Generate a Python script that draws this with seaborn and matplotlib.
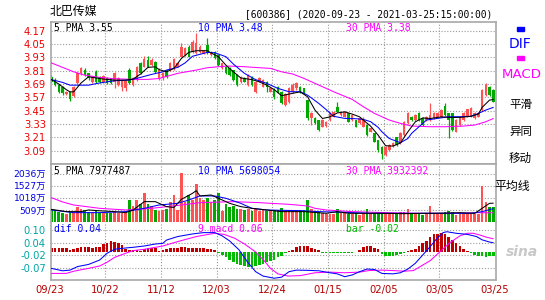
import matplotlib
matplotlib.use("Agg")
import matplotlib.pyplot as plt
import matplotlib.transforms as mtransforms
from matplotlib.patches import Rectangle
import numpy as np
import pandas as pd
import seaborn as sns

# ---------------- data ----------------
date_labels = ["09/23", "10/22", "11/12", "12/03", "12/24", "01/15", "02/05", "03/05", "03/25"]
date_label_pos = [-0.5, 14.5, 29.5, 44.5, 59.5, 74.5, 89.5, 104.5, 119.5]

opens = [3.756, 3.726, 3.681, 3.666, 3.60, 3.62, 3.58, 3.70, 3.79, 3.82,
         3.786, 3.71, 3.80, 3.756, 3.71, 3.74, 3.74, 3.71, 3.68, 3.666,
         3.65, 3.816, 3.68, 3.73, 3.876, 3.846, 3.906, 3.861, 3.891, 3.741,
         3.741, 3.816, 3.816, 3.831, 3.846, 3.936, 3.951, 4.026, 3.981, 3.966,
         3.981, 3.966, 4.041, 3.951, 3.981, 3.951, 3.831, 3.846, 3.831, 3.816,
         3.771, 3.711, 3.741, 3.681, 3.756, 3.621, 3.711, 3.666, 3.711, 3.621,
         3.64, 3.666, 3.62, 3.50, 3.53, 3.62, 3.65, 3.666, 3.65, 3.546,
         3.381, 3.381, 3.366, 3.306, 3.312, 3.366, 3.396, 3.486, 3.411, 3.396,
         3.426, 3.366, 3.366, 3.336, 3.306, 3.321, 3.261, 3.246, 3.186, 3.12,
         3.051, 3.096, 3.132, 3.21, 3.156, 3.231, 3.336, 3.396, 3.366, 3.426,
         3.381, 3.366, 3.366, 3.381, 3.396, 3.396, 3.492, 3.426, 3.426, 3.261,
         3.321, 3.366, 3.396, 3.396, 3.381, 3.396, 3.456, 3.591, 3.666, 3.636]
closes = [3.711, 3.681, 3.621, 3.606, 3.62, 3.56, 3.66, 3.786, 3.83, 3.77,
          3.741, 3.75, 3.71, 3.711, 3.76, 3.70, 3.70, 3.786, 3.74, 3.726,
          3.72, 3.696, 3.74, 3.846, 3.786, 3.912, 3.846, 3.906, 3.801, 3.816,
          3.786, 3.756, 3.876, 3.912, 3.876, 4.026, 4.011, 3.936, 4.071, 4.056,
          4.026, 3.996, 3.966, 3.981, 3.921, 3.861, 3.876, 3.786, 3.771, 3.726,
          3.681, 3.756, 3.711, 3.771, 3.681, 3.711, 3.741, 3.726, 3.666, 3.651,
          3.57, 3.62, 3.516, 3.60, 3.65, 3.68, 3.70, 3.62, 3.606, 3.381,
          3.426, 3.336, 3.276, 3.366, 3.351, 3.426, 3.441, 3.441, 3.441, 3.441,
          3.351, 3.411, 3.306, 3.381, 3.366, 3.231, 3.291, 3.171, 3.10, 3.06,
          3.126, 3.141, 3.162, 3.141, 3.246, 3.351, 3.426, 3.366, 3.411, 3.366,
          3.321, 3.396, 3.411, 3.426, 3.426, 3.456, 3.411, 3.366, 3.276, 3.366,
          3.396, 3.426, 3.462, 3.471, 3.426, 3.426, 3.636, 3.681, 3.591, 3.531]
highs = [3.77, 3.74, 3.69, 3.675, 3.63, 3.63, 3.67, 3.80, 3.846, 3.83,
         3.79, 3.76, 3.82, 3.76, 3.77, 3.75, 3.745, 3.80, 3.75, 3.73,
         3.73, 3.83, 3.75, 3.85, 3.89, 3.94, 3.942, 3.92, 3.90, 3.83,
         3.80, 3.82, 3.89, 3.92, 3.89, 4.056, 4.02, 4.04, 4.086, 4.146,
         4.04, 4.00, 4.101, 3.99, 3.99, 3.96, 3.88, 3.85, 3.84, 3.82,
         3.78, 3.765, 3.75, 3.78, 3.765, 3.72, 3.75, 3.735, 3.72, 3.66,
         3.65, 3.67, 3.63, 3.61, 3.66, 3.70, 3.71, 3.67, 3.655, 3.55,
         3.44, 3.39, 3.37, 3.375, 3.36, 3.435, 3.45, 3.531, 3.45, 3.45,
         3.43, 3.42, 3.37, 3.39, 3.396, 3.33, 3.30, 3.25, 3.19, 3.13,
         3.135, 3.15, 3.17, 3.215, 3.255, 3.36, 3.441, 3.40, 3.42, 3.441,
         3.39, 3.405, 3.516, 3.435, 3.435, 3.465, 3.52, 3.43, 3.43, 3.375,
         3.405, 3.435, 3.47, 3.48, 3.435, 3.435, 3.645, 3.696, 3.675, 3.645]
lows = [3.70, 3.675, 3.61, 3.59, 3.59, 3.54, 3.575, 3.69, 3.775, 3.76,
        3.73, 3.70, 3.70, 3.70, 3.70, 3.69, 3.69, 3.65, 3.67, 3.63,
        3.63, 3.69, 3.67, 3.72, 3.78, 3.84, 3.84, 3.85, 3.79, 3.73,
        3.73, 3.745, 3.81, 3.82, 3.84, 3.93, 3.94, 3.93, 3.97, 3.96,
        3.97, 3.96, 3.96, 3.945, 3.915, 3.855, 3.825, 3.78, 3.765, 3.72,
        3.675, 3.70, 3.705, 3.675, 3.675, 3.606, 3.705, 3.66, 3.62, 3.615,
        3.56, 3.61, 3.51, 3.49, 3.52, 3.61, 3.64, 3.61, 3.60, 3.37,
        3.32, 3.33, 3.27, 3.30, 3.305, 3.36, 3.39, 3.435, 3.405, 3.39,
        3.345, 3.36, 3.30, 3.33, 3.30, 3.225, 3.255, 3.165, 3.08, 3.02,
        3.045, 3.09, 3.125, 3.135, 3.15, 3.225, 3.33, 3.36, 3.36, 3.36,
        3.315, 3.36, 3.36, 3.375, 3.39, 3.39, 3.405, 3.201, 3.27, 3.255,
        3.315, 3.36, 3.39, 3.39, 3.375, 3.39, 3.45, 3.585, 3.585, 3.525]

# volume in 万 shares
volumes = [540, 470, 430, 380, 330, 450, 400, 650, 560, 500,
           450, 430, 480, 390, 420, 380, 370, 430, 380, 370,
           390, 930, 700, 930, 780, 1210, 780, 700, 520, 480,
           510, 570, 860, 1140, 520, 2070, 860, 1140, 930, 1600,
           1000, 930, 1000, 860, 930, 1210, 480, 780, 640, 700,
           570, 540, 500, 560, 480, 540, 470, 520, 470, 510,
           530, 500, 610, 520, 520, 500, 500, 520, 510, 930,
           540, 450, 420, 375, 350, 350, 340, 540, 400, 375,
           350, 340, 375, 320, 375, 540, 375, 400, 440, 400,
           375, 400, 340, 375, 420, 440, 540, 375, 350, 340,
           320, 400, 690, 375, 375, 400, 440, 470, 440, 320,
           350, 375, 375, 350, 340, 330, 1514, 860, 650, 625]

macd_bar = [0.018, 0.018, 0.017, 0.017, 0.016, 0.010, 0.012, 0.020, 0.021, 0.021,
            0.021, 0.020, 0.022, 0.024, 0.035, 0.042, 0.050, 0.047, 0.040, 0.030,
            0.014, 0.010, 0.010, 0.008, 0.006, 0.015, 0.017, 0.018, 0.016, 0.006,
            0.008, 0.014, 0.016, 0.018, 0.020, 0.021, 0.021, 0.020, 0.018, 0.017,
            0.016, 0.016, 0.015, 0.014, 0.010, -0.005, -0.015, -0.025, -0.035, -0.045,
            -0.055, -0.060, -0.065, -0.067, -0.067, -0.065, -0.060, -0.055, -0.045, -0.040,
            -0.035, -0.022, -0.018, -0.005, 0.005, 0.010, 0.022, 0.027, 0.027, 0.025,
            0.018, 0.012, 0.010, -0.004, -0.003, -0.003, -0.003, -0.003, -0.003, -0.003,
            -0.003, -0.003, -0.002, 0.010, 0.022, 0.027, 0.027, 0.020, 0.012, -0.010,
            -0.020, -0.020, -0.018, -0.015, -0.010, -0.003, 0.005, 0.010, 0.015, 0.025,
            0.040, 0.050, 0.070, 0.080, 0.083, 0.085, 0.082, 0.070, 0.055, 0.040,
            0.025, 0.012, 0.004, -0.005, -0.012, -0.018, -0.020, -0.022, -0.020, -0.020]

# moving-average lines, sampled points (bar index, value)
ma5_x = [0, 2, 4, 5, 6, 7, 8, 10, 12, 14, 17, 20, 22, 24, 26, 28, 29, 31, 33, 35,
         37, 39, 42, 43, 45, 47, 49, 51, 54, 56, 58, 60, 62, 64, 67, 69, 71, 73, 75, 77,
         79, 81, 83, 84, 86, 88, 90, 92, 94, 96, 98, 100, 102, 105, 107, 110, 113, 115, 116, 118, 119]
ma5_y = [3.73, 3.69, 3.64, 3.62, 3.62, 3.66, 3.70, 3.755, 3.745, 3.735, 3.725, 3.725, 3.735, 3.78, 3.84, 3.845, 3.82, 3.80, 3.83, 3.92,
         3.975, 3.99, 3.99, 3.97, 3.935, 3.86, 3.80, 3.745, 3.73, 3.71, 3.68, 3.64, 3.585, 3.60, 3.62, 3.575, 3.455, 3.38, 3.395, 3.43,
         3.44, 3.42, 3.395, 3.366, 3.31, 3.23, 3.135, 3.132, 3.16, 3.26, 3.35, 3.385, 3.38, 3.395, 3.39, 3.39, 3.40, 3.42, 3.48, 3.546, 3.55]
ma10_x = [0, 3, 5, 8, 10, 13, 17, 21, 24, 27, 30, 31, 34, 36, 38, 42, 44, 47, 49, 52,
          55, 58, 61, 64, 67, 69, 72, 74, 76, 79, 82, 84, 86, 88, 89, 91, 94, 96, 97, 99,
          101, 104, 107, 110, 113, 115, 117, 119]
ma10_y = [3.73, 3.705, 3.68, 3.68, 3.68, 3.70, 3.72, 3.726, 3.75, 3.777, 3.80, 3.816, 3.84, 3.88, 3.94, 3.975, 3.972, 3.936, 3.87, 3.786,
          3.73, 3.696, 3.651, 3.621, 3.621, 3.59, 3.516, 3.46, 3.40, 3.381, 3.378, 3.372, 3.351, 3.30, 3.261, 3.20, 3.162, 3.20, 3.246, 3.306,
          3.366, 3.381, 3.396, 3.396, 3.40, 3.426, 3.456, 3.48]
ma30_x = [0, 3, 6, 9, 13, 17, 22, 26, 29, 34, 39, 42, 45, 48, 52, 56, 59, 62, 65, 68,
          72, 76, 81, 84, 87, 89, 91, 94, 97, 102, 106, 111, 114, 117, 119]
ma30_y = [3.88, 3.84, 3.80, 3.77, 3.75, 3.738, 3.732, 3.732, 3.74, 3.786, 3.816, 3.837, 3.846, 3.852, 3.846, 3.837, 3.831, 3.80, 3.78, 3.741,
          3.681, 3.621, 3.552, 3.486, 3.426, 3.396, 3.366, 3.336, 3.312, 3.306, 3.306, 3.312, 3.321, 3.351, 3.38]

vma5_x = [0, 4, 8, 10, 13, 17, 20, 22, 25, 28, 31, 33, 35, 38, 39, 40, 43, 45, 48, 51,
          54, 58, 62, 68, 72, 74, 77, 80, 85, 90, 95, 100, 105, 110, 114, 116, 118, 119]
vma5_y = [540, 445, 445, 514, 480, 445, 403, 514, 862, 862, 654, 620, 958, 1210, 1321, 1099, 1140, 1001, 792, 654,
          583, 514, 445, 445, 400, 375, 445, 375, 375, 375, 360, 375, 380, 400, 375, 583, 792, 798]
vma10_x = [0, 6, 13, 20, 25, 29, 34, 37, 40, 44, 47, 51, 54, 58, 62, 67, 72, 78, 86, 100, 113, 116, 119]
vma10_y = [514, 403, 403, 445, 583, 722, 792, 931, 1099, 1099, 1001, 792, 583, 514, 500, 486, 445, 420, 375, 375, 375, 445, 570]
vma30_x = [0, 3, 6, 13, 20, 27, 35, 40, 49, 56, 59, 64, 69, 71, 74, 81, 90, 99, 108, 115, 119]
vma30_y = [1027, 850, 722, 583, 514, 583, 722, 820, 862, 820, 792, 750, 681, 583, 514, 445, 403, 375, 375, 403, 395]

dif_x = [0, 3, 5, 7, 10, 13, 15, 17, 20, 22, 25, 28, 30, 31, 34, 38, 41, 44, 46, 48,
         50.5, 53, 55, 57, 60, 62, 64, 66, 69, 72, 75, 77, 79, 81, 83, 85, 87, 89, 92, 94,
         96, 98, 100, 102, 104, 105.5, 106.5, 109, 112, 114.5, 116, 118, 119]
dif_y = [-0.075, -0.086, -0.083, -0.067, -0.057, -0.037, -0.006, 0.012, 0.018, 0.021, 0.027, 0.036, 0.039, 0.054, 0.070, 0.082, 0.088, 0.088, 0.073, 0.050,
         0.010, -0.050, -0.090, -0.110, -0.120, -0.115, -0.090, -0.083, -0.084, -0.086, -0.095, -0.100, -0.113, -0.105, -0.090, -0.078, -0.080, -0.098, -0.100, -0.095,
         -0.078, -0.052, -0.014, 0.024, 0.065, 0.088, 0.092, 0.085, 0.080, 0.070, 0.055, 0.045, 0.042]
dea_x = [0, 4, 6, 10, 13, 15, 17, 20, 22, 25, 28, 30, 34, 39, 44, 46.5, 49.4, 52, 55, 57.5,
         59, 61, 63.7, 67, 71, 75, 79, 83, 85.5, 89, 92, 95, 97.5, 99.3, 102, 104.6, 107.3, 110, 112, 113.6,
         115.4, 117.2, 119]
dea_y = [-0.098, -0.098, -0.088, -0.075, -0.064, -0.047, -0.025, -0.006, 0.006, 0.012, 0.021, 0.027, 0.047, 0.070, 0.085, 0.080, 0.062, 0.036, 0.000, -0.044,
         -0.075, -0.100, -0.110, -0.108, -0.095, -0.092, -0.095, -0.092, -0.085, -0.083, -0.085, -0.088, -0.085, -0.067, -0.040, 0.000, 0.042, 0.073, 0.085, 0.085,
         0.077, 0.067, 0.060]

price_ticks = [4.17, 4.05, 3.93, 3.81, 3.69, 3.57, 3.45, 3.33, 3.21, 3.09]
vol_ticks = [509, 1018, 1527, 2036]
macd_ticks = [0.10, 0.0425, -0.015, -0.0725]
macd_tick_labels = ["0.10", "0.04", "-0.02", "-0.07"]

# ---------------- styling ----------------
sns.set_theme(style="white")
plt.rcParams["font.family"] = ["DejaVu Sans", "Noto Sans CJK SC"]

W, H = 545.0, 300.0
fig = plt.figure(figsize=(5.45, 3.0), dpi=100)
fig.patch.set_facecolor("white")

def fx(px):
    return px / W

def fy(py):
    return 1.0 - py / H

LEFT, RIGHT = 50.7, 495.5
TOP_P, BOT_P, BOT_V, BOT_M = 21.7, 164.3, 222.3, 280.0
ax_p = fig.add_axes([fx(LEFT), fy(BOT_P), fx(RIGHT - LEFT), (BOT_P - TOP_P) / H])
ax_v = fig.add_axes([fx(LEFT), fy(BOT_V), fx(RIGHT - LEFT), (BOT_V - BOT_P) / H])
ax_m = fig.add_axes([fx(LEFT), fy(BOT_M), fx(RIGHT - LEFT), (BOT_M - BOT_V) / H])

RED = "#ff5252"
GREEN = "#00a800"
DRED = "#c00000"
MGREEN = "#00bb00"
GRID = "#9a9a9a"
BORDER = "#a8a8a8"
LW = 0.75
XLIM = (-0.19, 119.6)
vgrid = [14.5, 29.5, 44.5, 59.5, 74.5, 89.5, 104.5]

for ax in (ax_p, ax_v, ax_m):
    ax.set_facecolor("white")
    ax.set_xlim(*XLIM)
    ax.set_xticks([])
    for s in ax.spines.values():
        s.set_color(BORDER)
        s.set_linewidth(1.2)
    for xv in vgrid:
        ax.axvline(xv, color=GRID, lw=0.8, ls=(0, (1, 1.6)), zorder=0)
ax_v.spines["bottom"].set_visible(False)
ax_m.spines["top"].set_visible(False)

# ---- price panel ----
ax_p.set_ylim(2.968, 4.251)
for yv in price_ticks:
    ax_p.axhline(yv, color=GRID, lw=0.8, ls=(0, (1, 1.6)), zorder=0)
idx = np.arange(len(opens))
o = np.array(opens); c = np.array(closes); hi = np.array(highs); lo = np.array(lows)
up = c >= o
cols = [RED if u else GREEN for u in up]
ax_p.vlines(idx, lo, hi, colors=cols, lw=0.9, zorder=2)
body_h = np.where(np.abs(c - o) < 0.004, 0.004, np.abs(c - o))
ax_p.bar(idx, body_h, bottom=np.minimum(o, c), width=0.68, color=cols, linewidth=0, zorder=2)

sns.lineplot(x=ma30_x, y=ma30_y, ax=ax_p, color="#ff00ff", lw=LW, estimator=None, sort=False, zorder=3)
sns.lineplot(x=ma10_x, y=ma10_y, ax=ax_p, color="#0000ff", lw=LW, estimator=None, sort=False, zorder=3)
sns.lineplot(x=ma5_x, y=ma5_y, ax=ax_p, color="black", lw=LW, estimator=None, sort=False, zorder=3)

ax_p.set_yticks(price_ticks)
ax_p.set_yticklabels([f"{v:.2f}" for v in price_ticks])
ax_p.tick_params(axis="y", length=0, pad=3.5, labelsize=7.2, labelcolor="#ee0000")

# ---- volume panel ----
ax_v.set_ylim(0, 2420)
for yv in vol_ticks:
    ax_v.axhline(yv, color=GRID, lw=0.8, ls=(0, (1, 1.6)), zorder=0)
ax_v.bar(idx, volumes, width=0.72, color=cols, linewidth=0, zorder=2)
sns.lineplot(x=vma30_x, y=vma30_y, ax=ax_v, color="#ff00ff", lw=LW, estimator=None, sort=False, zorder=3)
sns.lineplot(x=vma10_x, y=vma10_y, ax=ax_v, color="#0000ff", lw=LW, estimator=None, sort=False, zorder=3)
sns.lineplot(x=vma5_x, y=vma5_y, ax=ax_v, color="black", lw=LW, estimator=None, sort=False, zorder=3)
ax_v.set_yticks(vol_ticks)
ax_v.set_yticklabels([f"{v}万" for v in vol_ticks])
ax_v.tick_params(axis="y", length=0, pad=3.5, labelsize=6.6, labelcolor="#0000dd")

# ---- MACD panel ----
ax_m.set_ylim(-0.128, 0.135)
for yv in macd_ticks:
    ax_m.axhline(yv, color=GRID, lw=0.8, ls=(0, (1, 1.6)), zorder=0)
mb = np.array(macd_bar)
ax_m.bar(idx, mb, width=0.7, color=[DRED if v >= 0 else MGREEN for v in mb], linewidth=0, zorder=2)
sns.lineplot(x=dea_x, y=dea_y, ax=ax_m, color="#ff00ff", lw=LW, estimator=None, sort=False, zorder=3)
sns.lineplot(x=dif_x, y=dif_y, ax=ax_m, color="#0000ff", lw=LW, estimator=None, sort=False, zorder=3)
ax_m.set_yticks(macd_ticks)
ax_m.set_yticklabels(macd_tick_labels)
ax_m.tick_params(axis="y", length=0, pad=3.5, labelsize=7.2, labelcolor="#00a5a5")

for ax in (ax_p, ax_v, ax_m):
    ax.set_xlabel("")
    ax.set_ylabel("")

# date labels
trans = mtransforms.blended_transform_factory(ax_m.transData, fig.transFigure)
for pos, lab in zip(date_label_pos, date_labels):
    ax_m.text(pos, fy(290), lab, transform=trans, ha="center", va="center",
              fontsize=7.2, color="#b40000", clip_on=False)

# ---- texts ----
MONO = "DejaVu Sans Mono"
fig.text(fx(50), fy(11), "北巴传媒", fontsize=8.6, family=["Noto Sans CJK SC", "DejaVu Sans"],
         ha="left", va="center", color="black")
fig.text(fx(492.7), fy(14.3), "[600386] (2020-09-23 - 2021-03-25:15:00:00)", family=MONO,
         fontsize=6.95, ha="right", va="center", color="black")

def panel_label(x, y, s, color):
    fig.text(fx(x), fy(y), s, family=MONO, fontsize=7.05, ha="left", va="center", color=color)

panel_label(54.3, 27.6, "5 PMA 3.55", "black")
panel_label(198.0, 27.6, "10 PMA 3.48", "#0000ff")
panel_label(346.0, 27.6, "30 PMA 3.38", "#ff00ff")
panel_label(54.3, 171.0, "5 PMA 7977487", "black")
panel_label(198.0, 171.0, "10 PMA 5698054", "#0000ff")
panel_label(346.0, 171.0, "30 PMA 3932392", "#ff00ff")
panel_label(54.3, 229.0, "dif 0.04", "#0000ff")
panel_label(197.7, 229.0, "9 macd 0.06", "#ff00ff")
panel_label(346.0, 229.0, "bar -0.02", "#00bb00")

# right-hand legend
fig.patches.append(Rectangle((fx(516.7), fy(30.7)), fx(7.3), 4.0 / H, transform=fig.transFigure,
                             color="#0000ff", zorder=5))
fig.text(fx(520.3), fy(43.5), "DIF", fontsize=10, color="#0000ff", ha="center", va="center")
fig.patches.append(Rectangle((fx(516.7), fy(60.3)), fx(7.3), 4.0 / H, transform=fig.transFigure,
                             color="#ff00ff", zorder=5))
fig.text(fx(521.3), fy(74.5), "MACD", fontsize=9.6, color="#ff00ff", ha="center", va="center")
CJK = ["Noto Sans CJK SC", "DejaVu Sans"]
fig.text(fx(520.5), fy(104), "平滑", fontsize=8.3, family=CJK, ha="center", va="center", color="black")
fig.text(fx(520.5), fy(131.7), "异同", fontsize=8.3, family=CJK, ha="center", va="center", color="black")
fig.text(fx(520.5), fy(158), "移动", fontsize=8.3, family=CJK, ha="center", va="center", color="black")
fig.text(fx(512), fy(186), "平均线", fontsize=8.6, family=CJK, ha="center", va="center", color="black")

# watermark
fig.text(fx(522), fy(252), "sina", fontsize=10, style="italic", weight="bold", color="#c8c8c8",
         ha="center", va="center")

fig.savefig("out.png", dpi=100, facecolor="white")
